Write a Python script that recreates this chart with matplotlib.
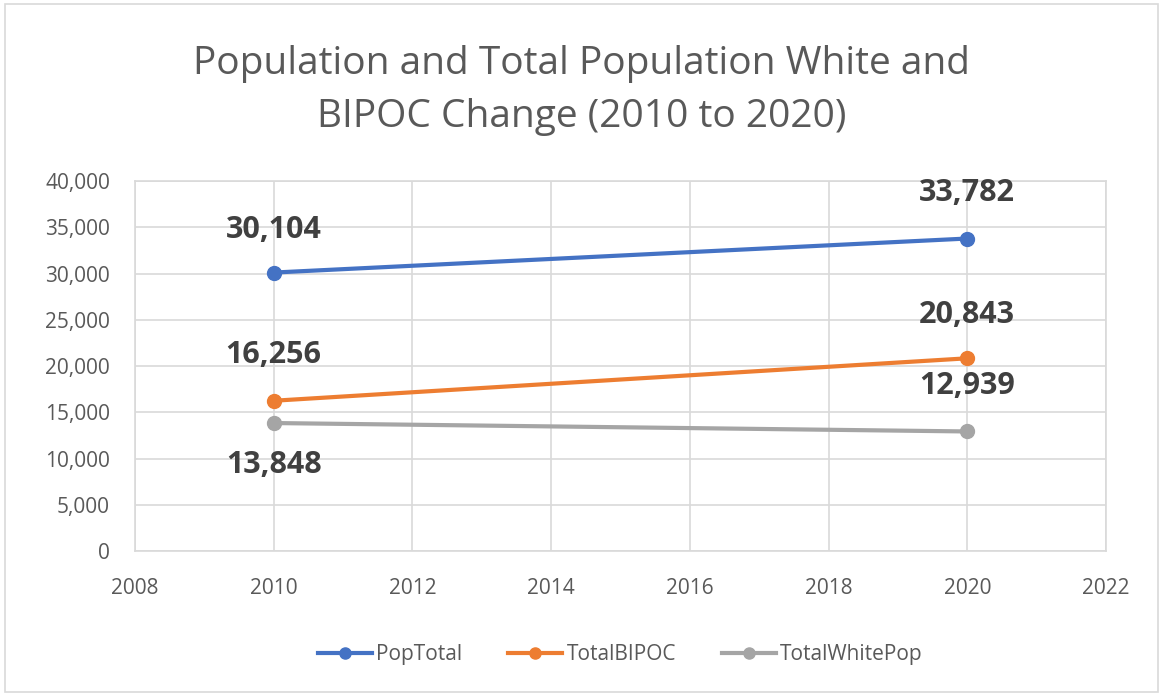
import matplotlib.pyplot as plt
from matplotlib.patches import Rectangle

plt.rcParams['font.family'] = ['Open Sans', 'DejaVu Sans']

years = [2010, 2020]
pop_total = [30104, 33782]
total_bipoc = [16256, 20843]
total_white = [13848, 12939]

series = [
    ('PopTotal', pop_total, '#4472C4', [31, 33]),
    ('TotalBIPOC', total_bipoc, '#ED7D31', [33, 31]),
    ('TotalWhitePop', total_white, '#A5A5A5', [-30, 33]),
]

fig = plt.figure(figsize=(11.63, 6.96), dpi=100)
ax = fig.add_axes([0.116, 0.208, 0.835, 0.532])

for name, vals, color, offs in series:
    ax.plot(years, vals, color=color, lw=3, marker='o', ms=10, label=name, zorder=3)
    for x, y, off in zip(years, vals, offs):
        ax.annotate(f'{y:,}', (x, y), xytext=(0, off), textcoords='offset points',
                    ha='center', va='center', fontsize=22, fontweight='bold',
                    color='#404040', zorder=4)

ax.set_xlim(2008, 2022)
ax.set_ylim(0, 40000)
ax.set_xticks(range(2008, 2023, 2))
ax.set_yticks(range(0, 40001, 5000))
ax.yaxis.set_major_formatter(plt.FuncFormatter(lambda v, p: f'{int(v):,}'))
ax.grid(True, color='#D9D9D9', lw=1.2)
ax.set_axisbelow(True)
for s in ax.spines.values():
    s.set_color('#D9D9D9')
    s.set_linewidth(1.2)
ax.tick_params(length=0, labelsize=15, colors='#595959')
ax.tick_params(axis='y', pad=18)
ax.tick_params(axis='x', pad=19)

fig.suptitle('Population and Total Population White and\nBIPOC Change (2010 to 2020)',
             y=0.935, fontsize=28, color='#595959', linespacing=1.5)

ax.legend(loc='upper center', bbox_to_anchor=(0.5, -0.2), ncol=3, frameon=False,
          fontsize=15, labelcolor='#595959', handlelength=2.6, columnspacing=2.2,
          handletextpad=0.2, markerscale=0.8)

fig.patches.append(Rectangle((0.004, 0.006), 0.992, 0.988, transform=fig.transFigure,
                             fill=False, edgecolor='#D9D9D9', lw=1.2))

fig.savefig('out.png', dpi=100)
